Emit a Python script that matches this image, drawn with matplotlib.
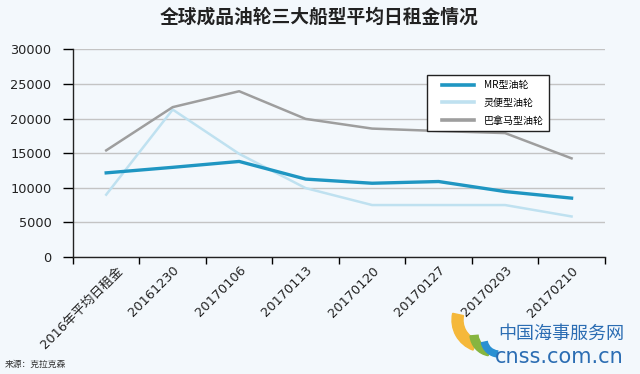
import matplotlib.pyplot as plt
import matplotlib.transforms as mtransforms
from matplotlib.patches import Wedge
from matplotlib.lines import Line2D
from matplotlib.legend_handler import HandlerLine2D

plt.rcParams['font.family'] = ['DejaVu Sans', 'Noto Sans CJK SC']

categories = ['2016年平均日租金', '20161230', '20170106', '20170113',
              '20170120', '20170127', '20170203', '20170210']
mr = [12150, 12950, 13800, 11250, 10650, 10900, 9450, 8500]
handy = [9000, 21300, 14900, 9950, 7500, 7500, 7500, 5850]
panamax = [15400, 21650, 23950, 19950, 18550, 18200, 17900, 14250]
y_ticks = [0, 5000, 10000, 15000, 20000, 25000, 30000]

bg = '#f3f8fc'
cjk = ['Noto Sans CJK SC', 'DejaVu Sans']
fig = plt.figure(figsize=(6.4, 3.74), dpi=100, facecolor=bg)

# logo layer (pixel coords)
lg = fig.add_axes([0, 0, 1, 1], zorder=-1)
lg.set_xlim(0, 640)
lg.set_ylim(0, 374)
lg.axis('off')
lg.add_patch(Wedge((484, 54), 32, 168, 250, width=11, color='#f5b83a'))
lg.add_patch(Wedge((492, 40), 22, 185, 260, width=8, color='#86b540'))
lg.add_patch(Wedge((499, 35), 18, 192, 264, width=6, color='#2a90d2'))

ax = fig.add_axes([0.114, 0.313, 0.831, 0.555], facecolor=bg)

x = list(range(len(categories)))
ax.plot(x, mr, color='#1f96c2', lw=2.4, label='MR型油轮', zorder=3)
ax.plot(x, handy, color='#bfe1f0', lw=1.8, label='灵便型油轮', zorder=2)
ax.plot(x, panamax, color='#9e9e9e', lw=1.8, label='巴拿马型油轮', zorder=2)

ax.set_xlim(-0.5, len(categories) - 0.5)
ax.set_ylim(0, 30000)
ax.set_yticks(y_ticks)
ax.set_yticklabels([str(v) for v in y_ticks], fontsize=9.3, color='#222222')
ax.yaxis.grid(True, color='#c4c4c4', lw=1.0)
ax.set_axisbelow(True)

ax.set_xticks([i - 0.5 for i in range(len(categories) + 1)])
ax.set_xticklabels([])
ax.set_xticks(x, minor=True)
ax.set_xticklabels([''] + categories[1:], minor=True, rotation=45, ha='right',
                   rotation_mode='anchor', fontsize=9.3, color='#222222')
# first label is pushed right to stay inside the chart, like in the original
trans = mtransforms.blended_transform_factory(ax.transData, ax.transAxes)
trans = trans + mtransforms.ScaledTranslation(14 / 100, -12 / 100, fig.dpi_scale_trans)
ax.text(x[0], 0, categories[0], transform=trans, rotation=45, ha='right',
        va='center', rotation_mode='anchor', fontsize=9.3, color='#222222')
ax.tick_params(axis='x', which='minor', length=0, pad=5)
ax.tick_params(axis='x', which='major', length=5, width=1, direction='out')
ax.tick_params(axis='y', length=7, width=1, direction='out', pad=8.5)

for s in ['top', 'right']:
    ax.spines[s].set_visible(False)
for s in ['left', 'bottom']:
    ax.spines[s].set_color('#222222')
    ax.spines[s].set_linewidth(1.0)

leg = ax.legend(loc='upper left', bbox_to_anchor=(0.665, 0.876), borderaxespad=0,
                prop={'family': cjk, 'size': 7.2}, frameon=True, fancybox=False,
                edgecolor='#222222', facecolor='white', framealpha=1,
                handlelength=4.2, handletextpad=1.0, labelspacing=0.78,
                borderpad=0.5, handler_map={Line2D: HandlerLine2D(xpad=1.0)})
leg.get_frame().set_linewidth(1.0)
for h in leg.get_lines():
    h.set_linewidth(2.6)

fig.text(0.498, 0.953, '全球成品油轮三大船型平均日租金情况', ha='center', va='center',
         fontsize=13.5, fontweight='bold', color='#222222', family=cjk)
fig.text(0.008, 0.027, '来源：克拉克森', ha='left', va='center', fontsize=6.3,
         color='#333333', family=cjk)

fig.text(0.778, 0.107, '中国海事服务网', ha='left', va='center', fontsize=13,
         color='#2b6db3', family=cjk)
fig.text(0.774, 0.045, 'cnss.com.cn', ha='left', va='center', fontsize=15,
         color='#2b6db3')

fig.savefig('out.png', dpi=100, facecolor=bg)
